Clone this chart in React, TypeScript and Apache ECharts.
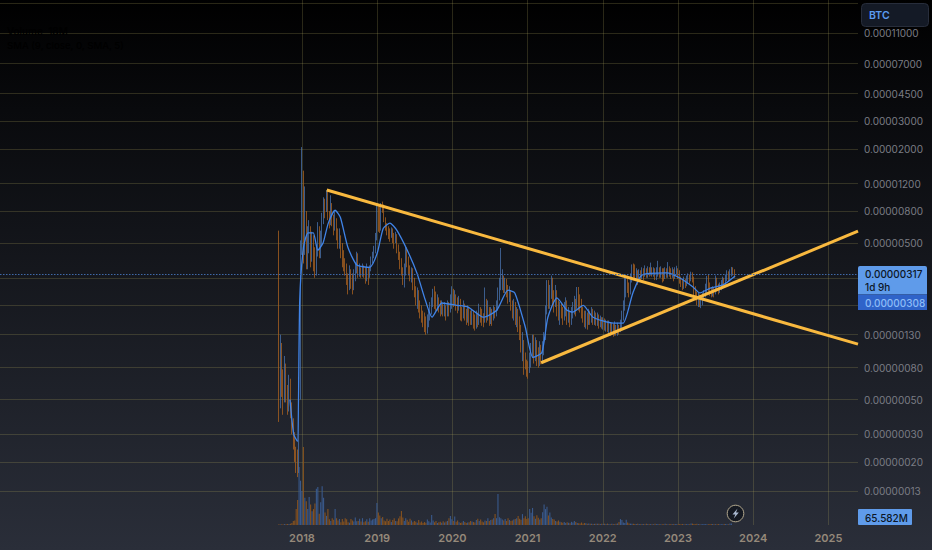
import React, { useEffect, useRef } from "react";
import * as echarts from "echarts";

// All prices are in satoshi (1e-8 BTC); weekly candles starting 2017-09-11 (decimal year 2017.693)
const firstOpen = 560;
const closes = [
  48,105,70,58,80,56,50,66,44,36,30,24,19,18,55,430,
  1300,480,700,420,520,620,430,510,400,330,450,560,440,520,700,900,850,1050,760,660,880,720,640,690,600,510,540,440,420,380,350,300,265,320,300,255,300,340,390,320,340,320,345,330,300,340,310,340,390,420,450,540,
  800,780,610,880,860,720,650,610,590,560,600,540,520,560,480,430,380,340,290,330,450,400,350,310,335,280,250,225,240,205,190,175,165,158,150,165,180,195,210,235,220,200,215,205,190,200,185,195,180,200,190,220,
  250,215,230,210,200,215,180,172,195,178,165,185,170,160,175,155,148,170,155,185,175,165,160,210,170,185,160,178,165,180,175,195,230,270,280,300,260,285,260,235,245,205,190,200,170,180,160,145,110,115,90,85,
  78,75,85,100,120,95,115,90,88,105,92,100,125,185,270,210,240,295,230,205,245,200,180,190,185,170,190,205,170,180,160,175,190,210,195,240,225,210,185,175,160,170,155,175,165,180,165,172,158,168,155,160,
  150,158,148,152,145,148,138,145,138,143,135,146,140,150,170,195,250,290,265,240,300,345,330,310,320,305,320,300,330,315,335,320,340,325,345,320,330,315,335,340,320,335,325,310,330,320,345,325,320,330,315,335,
  340,320,295,280,265,285,270,290,305,295,310,300,255,235,215,225,205,215,225,235,250,290,270,250,235,250,240,290,265,250,265,275,290,280,300,320,305,325,345,330,317,
];
const highs = [
  600,130,115,78,95,85,62,72,68,48,38,31,25,24,70,520,
  2050,1450,1150,800,640,700,640,590,560,470,490,680,640,600,780,980,960,1090,1080,800,1010,900,760,800,720,620,620,560,500,450,400,370,320,360,340,320,340,370,440,430,370,350,370,360,350,370,350,360,410,440,480,580,
  880,860,880,900,920,880,730,670,640,620,630,620,580,590,570,490,440,400,350,370,480,470,410,360,350,345,300,265,260,250,215,200,185,180,170,175,190,210,225,255,265,245,235,225,215,215,205,210,200,215,210,235,
  265,255,250,235,225,230,220,195,215,205,190,200,195,185,190,185,175,185,180,205,195,190,178,260,220,215,195,195,190,200,195,215,260,300,465,340,310,300,295,270,265,250,215,220,210,195,190,170,150,135,120,100,
  90,88,100,115,130,130,125,120,108,118,112,118,135,200,290,290,270,310,300,250,270,250,215,210,205,195,210,225,215,195,185,195,210,230,220,262,262,235,220,195,185,185,180,190,185,195,190,185,180,180,175,172,
  168,168,165,162,160,160,155,155,152,158,150,155,150,162,185,215,305,310,310,280,320,365,370,365,345,335,340,335,350,345,360,345,355,350,375,350,350,345,350,385,350,355,345,345,350,345,378,355,345,350,340,350,
  358,345,335,305,290,305,295,310,320,315,328,325,305,265,245,240,235,230,240,250,275,308,315,280,262,265,262,310,300,275,280,290,305,300,315,335,330,340,352,350,340,
];
const lows = [
  36,44,52,40,48,48,40,42,38,30,24,20,17,16,17,50,
  420,370,420,340,340,430,350,380,330,300,310,410,400,400,480,660,720,790,700,620,650,640,560,600,520,460,460,400,350,330,310,270,235,250,255,235,250,285,320,300,305,300,305,300,275,285,270,300,330,370,400,430,
  520,590,580,600,780,680,600,560,530,510,540,500,460,500,430,390,340,310,270,260,310,350,310,285,280,250,225,200,190,180,165,155,145,135,130,132,145,160,175,195,190,185,185,180,170,175,170,170,160,170,170,180,
  190,195,200,185,178,185,160,158,165,160,150,155,148,150,150,142,138,142,145,150,155,148,145,155,155,160,148,152,148,160,165,170,185,215,250,250,240,240,225,205,210,185,165,160,150,145,135,120,100,88,72,78,
  70,68,74,80,92,85,88,82,80,82,84,88,96,120,175,190,190,220,200,180,195,170,160,150,165,150,160,170,150,155,145,150,165,175,170,190,185,180,165,155,145,142,140,150,150,155,150,150,148,148,142,145,
  142,140,138,136,135,130,128,130,126,128,128,128,130,135,142,160,185,225,240,225,235,280,300,290,290,270,280,285,295,290,305,300,300,305,310,305,305,290,290,305,300,300,280,285,295,300,300,305,295,300,285,295,
  315,295,275,262,250,255,258,265,275,275,285,280,230,215,200,195,195,192,200,215,225,240,245,230,225,228,225,235,245,235,240,250,255,265,270,285,285,290,305,310,300,
];
// Volume in millions
const volumes = [
  30,20,30,25,40,30,40,40,60,90,180,200,700,1100,2550,1950,
  1500,3430,1200,1050,700,1230,900,600,700,950,1600,1670,500,1000,1700,1200,550,400,700,250,180,300,230,700,300,200,260,120,260,150,300,250,120,100,260,200,150,330,170,180,280,150,300,120,160,250,140,300,200,240,260,300,
  970,550,420,300,350,200,160,280,180,240,130,220,300,180,160,290,380,620,330,180,300,230,140,280,200,120,180,140,100,220,110,150,90,130,100,240,170,110,440,200,120,180,90,120,140,100,160,110,150,180,
  300,400,250,180,370,140,200,120,90,110,180,130,90,110,120,180,150,130,110,220,280,180,240,150,120,200,180,300,180,220,240,300,480,300,1360,340,300,240,200,260,180,300,220,180,200,240,260,300,400,280,230,480,
  300,380,260,300,700,540,750,380,280,430,320,240,300,560,900,700,800,420,550,330,260,240,180,150,200,140,120,100,130,90,120,100,80,140,110,180,130,90,80,70,110,60,90,80,60,70,50,60,45,50,60,55,
  50,45,55,40,50,40,60,45,35,50,40,35,50,70,130,260,220,110,90,230,110,70,60,50,60,45,40,50,40,35,45,40,35,50,40,30,40,35,30,50,35,40,30,35,30,35,50,30,35,30,40,30,
  45,40,35,30,35,30,40,30,35,40,30,30,70,60,40,35,50,40,30,35,30,45,35,30,35,30,40,45,35,30,35,40,30,35,30,45,40,35,30,65.582,65.582,
];
const smaYears = [2017.84,2017.89,2017.94,2017.97,2018.02,2018.08,2018.15,2018.21,2018.28,2018.35,2018.44,2018.51,2018.61,2018.73,2018.9,2019,2019.08,2019.17,2019.26,2019.4,2019.53,2019.64,2019.73,2019.86,2020.06,2020.21,2020.41,2020.59,2020.74,2020.83,2020.97,2021.07,2021.19,2021.27,2021.39,2021.52,2021.6,2021.74,2021.87,2022.14,2022.27,2022.4,2022.52,2022.85,2023.03,2023.2,2023.29,2023.43,2023.6,2023.76];
const smaValues = [50,30,27,216,470,580,580,450,500,670,810,730,470,362,350,430,620,670,605,450,320,216,168,207,200,195,168,186,250,240,145,93,100,168,223,187,181,200,168,154,154,240,312,322,298,262,240,258,270,308];
const resistanceYears = [2018.33, 2025.394];
const resistanceValues = [1090, 113];
const supportYears = [2021.18, 2025.394];
const supportValues = [86, 595];
const gridPrices = [17000,11000,7000,4500,3000,2000,1200,800,500,300,200,130,80,50,30,20,13];
const labelPrices = [11000,7000,4500,3000,2000,1200,800,500,130,80,50,30,20,13];
const tickYears = [2018,2019,2020,2021,2022,2023,2024,2025];

const START_YEAR = 2017.693;
const WEEK_YEARS = 7 / 365.25;
const UP = "#466fa8";
const DOWN = "#a65f20";

export default function App() {
  const ref = useRef<HTMLDivElement>(null);
  useEffect(() => {
    const chart = echarts.init(ref.current!, null, { renderer: "svg", width: 932, height: 550 });
    const opens = closes.map((_, i) => (i === 0 ? firstOpen : closes[i - 1]));
    const times = closes.map((_, i) => START_YEAR + i * WEEK_YEARS);
    const lbl = (text: string, x: number, y: number, fill: string, extra: any = {}) => ({
      type: "text", x, y, z: 100,
      style: { text, fill, font: "500 10px Inter", textVerticalAlign: "middle", ...extra },
    });
    chart.setOption({
      animation: false,
      backgroundColor: {
        type: "linear", x: 0, y: 0, x2: 0, y2: 1,
        colorStops: [
          { offset: 0, color: "#000000" },
          { offset: 0.2, color: "#090a0d" },
          { offset: 1, color: "#2a2e39" },
        ],
      },
      grid: { left: 0, right: 74, top: 0, bottom: 25, outerBoundsMode: "none" },
      xAxis: {
        type: "value",
        min: 2013.984,
        max: 2025.394,
        axisLine: { show: false },
        axisTick: { show: false, customValues: tickYears },
        splitLine: { show: true, lineStyle: { color: "rgba(170,165,90,0.24)", width: 1 } },
        axisLabel: {
          customValues: tickYears,
          formatter: (v: number) => String(v),
          color: "#95897a",
          fontFamily: "Inter",
          fontWeight: 600,
          fontSize: 11,
          margin: 7,
        },
      },
      yAxis: [
        {
          type: "log",
          position: "right",
          min: 7.91,
          max: 17836,
          axisLine: { show: false },
          axisTick: { show: false, customValues: gridPrices },
          splitLine: { show: true, lineStyle: { color: "rgba(170,165,90,0.24)", width: 1 } },
          axisLabel: {
            customValues: labelPrices,
            formatter: (v: number) => (v / 1e8).toFixed(8),
            color: "#7b7d85",
            fontFamily: "Inter",
            fontSize: 10,
            margin: 6,
          },
        },
        { type: "value", show: false, min: 0, max: 23100, position: "right", splitLine: { show: false } },
      ],
      series: [
        {
          type: "bar",
          yAxisIndex: 1,
          barWidth: 1.1,
          data: volumes.map((v, i) => [times[i], v]),
          itemStyle: {
            color: (p: any) => (closes[p.dataIndex] >= opens[p.dataIndex] ? "#39598c" : "#85511f"),
          },
          silent: true,
        },
        {
          type: "candlestick",
          barWidth: 1.2,
          data: closes.map((c, i) => [times[i], opens[i], c, lows[i], highs[i]]),
          itemStyle: { color: UP, color0: DOWN, borderColor: UP, borderColor0: DOWN, borderWidth: 0.8 },
          markLine: {
            silent: true,
            symbol: "none",
            label: { show: false },
            lineStyle: { color: "#3f69a8", type: [1.5, 1.5], width: 1 },
            data: [{ yAxis: closes[closes.length - 1] }],
          },
        },
        {
          type: "line",
          smooth: 0.2,
          showSymbol: false,
          lineStyle: { color: "#4084e8", width: 1.3 },
          data: smaYears.map((y, i) => [y, smaValues[i]]),
        },
        {
          type: "line",
          showSymbol: false,
          lineStyle: { color: "#f9b93f", width: 3 },
          data: resistanceYears.map((y, i) => [y, resistanceValues[i]]),
        },
        {
          type: "line",
          showSymbol: false,
          lineStyle: { color: "#f9b93f", width: 3 },
          data: supportYears.map((y, i) => [y, supportValues[i]]),
        },
      ],
      graphic: [
        lbl("Volume  18M", 7, 31, "#000000", { font: "500 10px Inter" }),
        lbl("SMA (9, close, 0, SMA, 5)", 7, 45, "#000000", { font: "500 9.6px Inter" }),
        { type: "rect", z: 100, shape: { x: 861.5, y: 3.5, width: 67, height: 23, r: 4 }, style: { fill: "#141a26", stroke: "#272d3b", lineWidth: 1 } },
        lbl("BTC", 869, 15, "#5b9cf0", { font: "600 10.5px Inter" }),
        { type: "rect", z: 100, shape: { x: 858, y: 266, width: 69, height: 28.5, r: [2, 2, 0, 0] }, style: { fill: "#5f9bea" } },
        { type: "rect", z: 100, shape: { x: 858, y: 294.5, width: 69, height: 15.5 }, style: { fill: "#2f63c9" } },
        lbl("0.00000317", 865, 274, "#0c1626"),
        lbl("1d 9h", 865, 286.5, "#0c1626"),
        lbl("0.00000308", 865, 302.5, "#8dbcf7"),
        { type: "rect", z: 100, shape: { x: 858, y: 509, width: 54, height: 16, r: 1 }, style: { fill: "#5f9bea" } },
        lbl("65.582M", 865, 517.5, "#0c1626"),
        { type: "circle", z: 100, shape: { cx: 735.5, cy: 513.5, r: 8.3 }, style: { fill: "#151922", stroke: "#b5aa8f", lineWidth: 1 } },
        {
          type: "polygon", z: 101,
          shape: { points: [[737.5, 508.5], [732.5, 514.5], [735.3, 514.5], [733.8, 518.5], [738.8, 512.5], [736, 512.5]] },
          style: { fill: "#a9b8d0" },
        },
      ],
    });
    return () => chart.dispose();
  }, []);
  return <div ref={ref} style={{ position: "fixed", left: 0, top: 0, width: 932, height: 550 }} />;
}
